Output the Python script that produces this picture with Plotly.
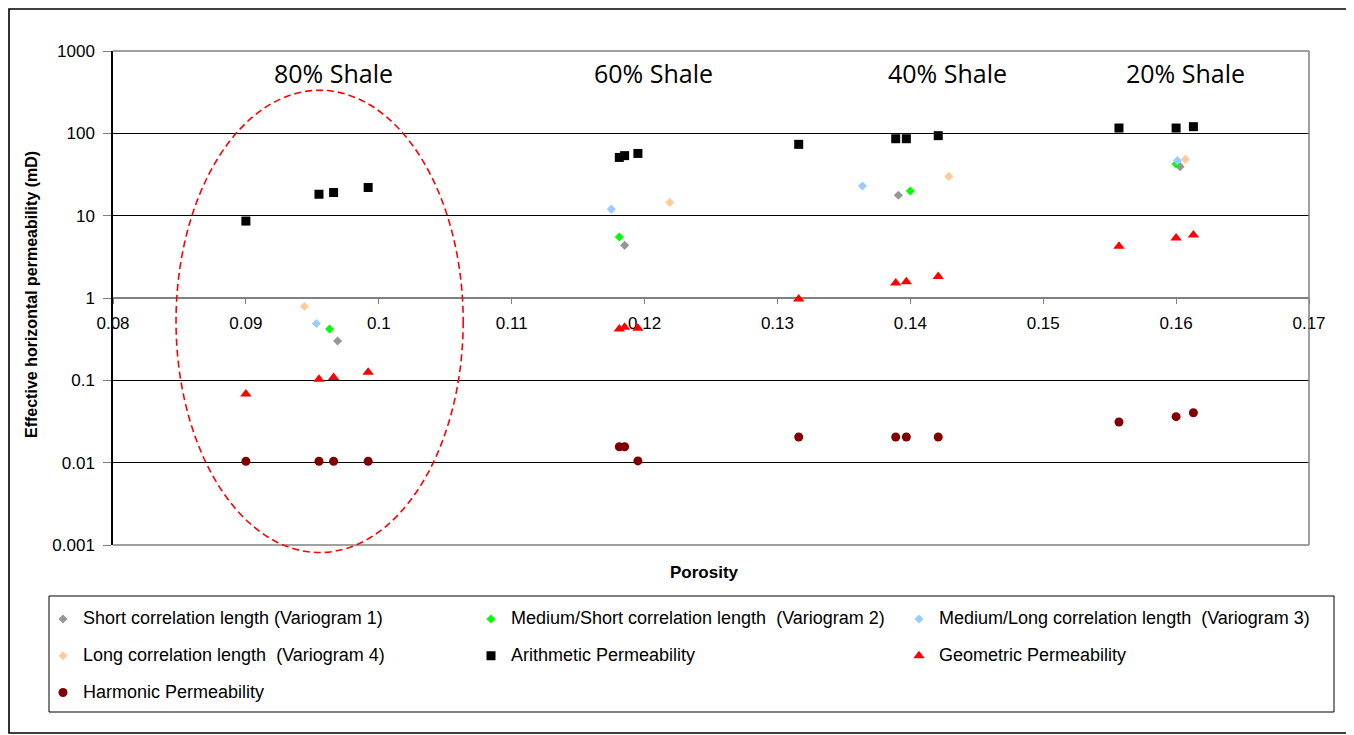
import math
import plotly.graph_objects as go

# ---------------- data ----------------
shale_labels = ["80% Shale", "60% Shale", "40% Shale", "20% Shale"]
shale_label_porosity = [0.0966, 0.1207, 0.1428, 0.1607]
shale_label_perm = 540

# porosity of each realisation (shared by the three averaging methods)
porosity = [0.0900, 0.0955, 0.0966, 0.0992,
            0.1181, 0.1185, 0.1195,
            0.1316,
            0.1389, 0.1397, 0.1421,
            0.1557, 0.1600, 0.1613]
arithmetic_perm = [8.6, 18.2, 19.1, 22.0,
                   51.0, 53.6, 57.0,
                   73.5,
                   86.0, 86.0, 93.7,
                   116.0, 116.0, 120.5]
geometric_perm = [0.068, 0.103, 0.108, 0.125,
                  0.42, 0.44, 0.43,
                  0.97,
                  1.52, 1.58, 1.83,
                  4.24, 5.35, 5.82]
harmonic_perm = [0.0104, 0.0104, 0.0104, 0.0104,
                 0.0156, 0.0156, 0.0105,
                 0.0205,
                 0.0205, 0.0205, 0.0205,
                 0.0312, 0.0362, 0.0404]

v1_porosity = [0.0969, 0.1185, 0.1391, 0.1603]
v1_perm = [0.30, 4.36, 17.7, 39.4]
v2_porosity = [0.0963, 0.1181, 0.1400, 0.1600]
v2_perm = [0.42, 5.5, 19.9, 42.5]
v3_porosity = [0.0953, 0.1175, 0.1364, 0.1601]
v3_perm = [0.49, 12.0, 22.9, 46.6]
v4_porosity = [0.0944, 0.1219, 0.1429, 0.1607]
v4_perm = [0.79, 14.5, 30.0, 48.3]

series_names = [
    "Short correlation length (Variogram 1)",
    "Medium/Short correlation length  (Variogram 2)",
    "Medium/Long correlation length  (Variogram 3)",
    "Long correlation length  (Variogram 4)",
    "Arithmetic Permeability",
    "Geometric Permeability",
    "Harmonic Permeability",
]

x_tickvals = [0.08, 0.09, 0.10, 0.11, 0.12, 0.13, 0.14, 0.15, 0.16, 0.17]
x_ticktext = ["0.08", "0.09", "0.1", "0.11", "0.12", "0.13", "0.14", "0.15", "0.16", "0.17"]
y_tickvals = [0.001, 0.01, 0.1, 1, 10, 100, 1000]
y_ticktext = ["0.001", "0.01", "0.1", "1", "10", "100", "1000"]

# ---------------- styling ----------------
PAGE_OFF = 8                     # default body margin of the html page
W, H = 1354 - PAGE_OFF, 735 - PAGE_OFF
ML, MT = 113 - PAGE_OFF, 51 - PAGE_OFF
PW, PH = 1196, 494
MR, MB = W - ML - PW, H - MT - PH
SANS = "Liberation Sans, Arial, sans-serif"
LEGEND_TEXT_PX = 18


def px_x(p):
    """page pixel x -> paper fraction"""
    return (p - PAGE_OFF - ML) / PW


def px_y(p):
    """page pixel y -> paper fraction"""
    return (MT + PH - (p - PAGE_OFF)) / PH


def legend_name(n):
    return f"<span style='font-size:{LEGEND_TEXT_PX}px'>{n}</span><br>\u00a0"


fig = go.Figure()

specs = [
    (v1_porosity, v1_perm, "diamond", "#969696", 7),
    (v2_porosity, v2_perm, "diamond", "#00FF00", 7),
    (v3_porosity, v3_perm, "diamond", "#99CCFF", 7),
    (v4_porosity, v4_perm, "diamond", "#FFCC99", 7),
    (porosity, arithmetic_perm, "square", "#000000", 9),
    (porosity, geometric_perm, "triangle-up", "#FF0000", 10),
    (porosity, harmonic_perm, "circle", "#800000", 9),
]
for name, (xs, ys, sym, col, size) in zip(series_names, specs):
    fig.add_trace(go.Scatter(
        x=xs, y=ys, mode="markers", name=legend_name(name),
        marker=dict(symbol=sym, color=col, size=size, line=dict(width=0)),
    ))

annotations = []
for lab, xp in zip(shale_labels, shale_label_porosity):
    annotations.append(dict(
        x=xp, y=math.log10(shale_label_perm), xref="x", yref="y", text=lab,
        showarrow=False, font=dict(family="Open Sans, sans-serif", size=25, color="black"),
        xanchor="center", yanchor="middle"))
annotations.append(dict(
    x=px_x(704), y=px_y(572), xref="paper", yref="paper", text="Porosity",
    showarrow=False, font=dict(family=SANS, size=17, color="black", weight="bold"),
    xanchor="center", yanchor="middle"))
annotations.append(dict(
    x=px_x(31), y=px_y(295), xref="paper", yref="paper",
    text="Effective horizontal permeability (mD)", textangle=-90,
    showarrow=False, font=dict(family=SANS, size=16, color="black", weight="bold"),
    xanchor="center", yanchor="middle"))

GRAY = "#808080"
shapes = [
    # plot-area border (top, right, bottom) in grey
    dict(type="line", xref="x domain", yref="y domain", x0=0, x1=1, y0=1, y1=1,
         line=dict(color=GRAY, width=1.5)),
    dict(type="line", xref="x domain", yref="y domain", x0=1, x1=1, y0=0, y1=1,
         line=dict(color=GRAY, width=1.5)),
    dict(type="line", xref="x domain", yref="y domain", x0=0, x1=1, y0=0, y1=0,
         line=dict(color=GRAY, width=1.5)),
    # highlight ellipse around the 80% shale cluster
    dict(type="circle", xref="x domain", yref="y domain",
         x0=0.0527, x1=0.2928, y0=-0.0152, y1=0.9205,
         line=dict(color="#FF0000", width=1.6, dash="7px,4px")),
    # legend frame
    dict(type="rect", xref="paper", yref="paper",
         x0=px_x(49), x1=px_x(1334), y0=px_y(712), y1=px_y(596),
         line=dict(color="black", width=1)),
    # outer chart frame
    dict(type="rect", xref="paper", yref="paper",
         x0=px_x(9), x1=px_x(1347), y0=px_y(733), y1=px_y(9),
         line=dict(color="black", width=1.6)),
]

fig.update_layout(
    width=W, height=H,
    margin=dict(l=ML, r=MR, t=MT, b=MB, autoexpand=False),
    paper_bgcolor="white", plot_bgcolor="white",
    font=dict(family=SANS, color="black"),
    showlegend=True,
    legend=dict(
        orientation="h", x=px_x(43), y=px_y(604), xanchor="left", yanchor="top",
        entrywidth=383, entrywidthmode="pixels", valign="top",
        font=dict(family=SANS, size=13, color="black"),
        bgcolor="rgba(0,0,0,0)", borderwidth=0, itemclick=False,
    ),
    annotations=annotations,
    shapes=shapes,
    xaxis=dict(
        range=[0.08, 0.17], anchor="free", position=0.5, layer="below traces",
        tickmode="array", tickvals=x_tickvals, ticktext=x_ticktext,
        showgrid=False, zeroline=False, showline=True, linecolor=GRAY, linewidth=1.5,
        ticks="outside", ticklen=5, tickcolor=GRAY, tickwidth=1,
        tickfont=dict(family=SANS, size=17, color="black"), ticklabelstandoff=5,
    ),
    yaxis=dict(
        type="log", range=[-3, 3], layer="below traces",
        tickmode="array", tickvals=y_tickvals, ticktext=y_ticktext,
        showgrid=True, gridcolor="black", gridwidth=1, zeroline=False,
        showline=True, linecolor="black", linewidth=1.5,
        ticks="outside", ticklen=8, tickcolor=GRAY, tickwidth=1,
        tickfont=dict(family=SANS, size=17, color="black"), ticklabelstandoff=5,
    ),
)

fig.write_html("out.html")
